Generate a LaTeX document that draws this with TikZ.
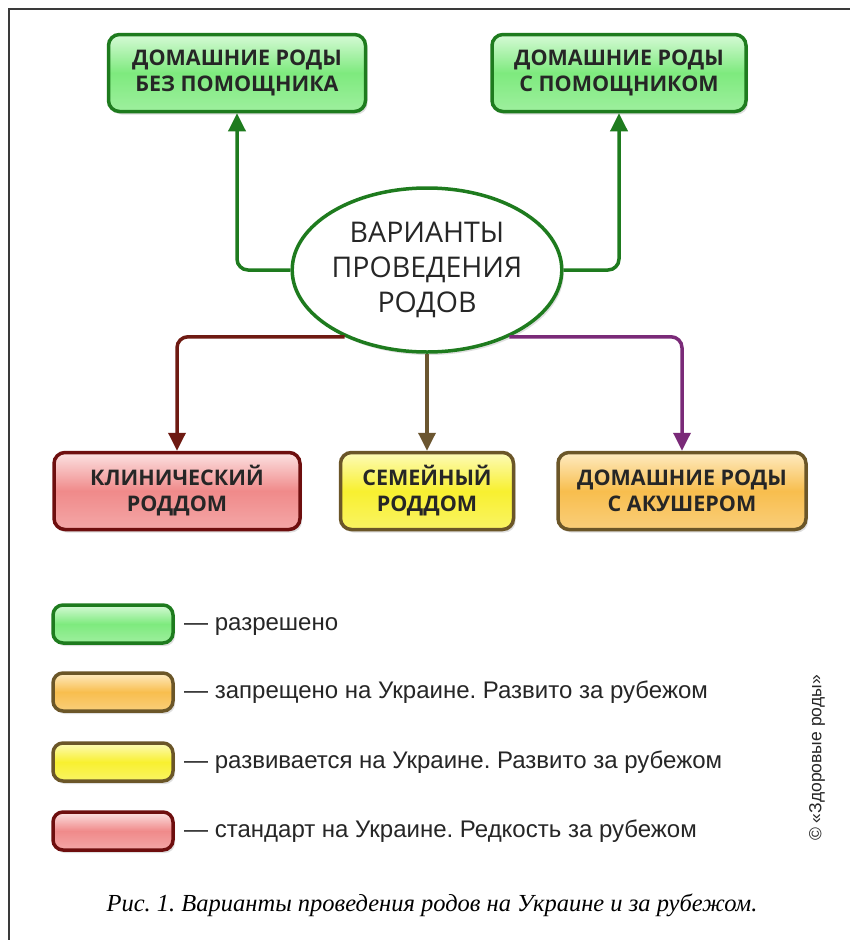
\documentclass[tikz,border=0pt]{standalone}
\usepackage{fontspec}
\setmainfont{Liberation Serif}
\newfontfamily\boxfont{Open Sans}
\newfontfamily\legfont{Liberation Sans}
\usetikzlibrary{shapes.geometric,arrows.meta,shadows}
\frenchspacing
\definecolor{gborder}{HTML}{1E7B1E}
\definecolor{gfill}{HTML}{7EEA7E}
\definecolor{gtop}{HTML}{D6FAD6}
\definecolor{rborder}{HTML}{6E0E0E}
\definecolor{rfill}{HTML}{F08A8A}
\definecolor{rtop}{HTML}{FCE2E2}
\definecolor{yborder}{HTML}{6B5628}
\definecolor{yfill}{HTML}{F8F030}
\definecolor{ytop}{HTML}{FDFBB8}
\definecolor{ofill}{HTML}{F8BE4E}
\definecolor{otop}{HTML}{FEEBC2}
\definecolor{redarrow}{HTML}{6E1A12}
\definecolor{brownarrow}{HTML}{6B5630}
\definecolor{purplearrow}{HTML}{7A2A78}
\definecolor{framecol}{HTML}{3A3A3A}
\tikzset{
  glossy/.style n args={3}{draw=#1, top color=#2, bottom color=#3!75!white, middle color=#3},
  shadowed/.style={drop shadow={opacity=0.25, shadow xshift=2pt, shadow yshift=-3pt}},
  mainbox/.style={rounded corners=11pt, line width=3.5pt, minimum height=77pt, align=center,
    font=\boxfont\bfseries\fontsize{21.5}{26}\selectfont, text=black!85, shadowed},
  legbox/.style={rounded corners=10pt, line width=3.5pt, minimum width=120pt, minimum height=38pt, shadowed},
  legtext/.style={anchor=west, inner sep=0pt, font=\legfont\fontsize{24}{28}\selectfont, text=black!85},
  conn/.style={line width=3.5pt, rounded corners=11pt, -{Triangle[width=17pt,length=18pt]}}
}
\begin{document}
\begin{tikzpicture}[x=1pt,y=-1pt]
\useasboundingbox (0,0) rectangle (850,940);
\fill[white] (0,0) rectangle (850,940);
% frame
\draw[line width=2pt, framecol] (9,940) -- (9,9) -- (850,9);

% top boxes
\node[mainbox, glossy={gborder}{gtop}{gfill}, minimum width=257pt] (b1) at (237,73) {ДОМАШНИЕ РОДЫ\\БЕЗ ПОМОЩНИКА};
\node[mainbox, glossy={gborder}{gtop}{gfill}, minimum width=254pt] (b2) at (619,73) {ДОМАШНИЕ РОДЫ\\С ПОМОЩНИКОМ};

% ellipse
\node[ellipse, draw=gborder, line width=3.5pt, fill=white, minimum width=266pt, minimum height=164pt,
  inner sep=0pt, align=center, shadowed, font=\boxfont\fontsize{28.5}{35}\selectfont, text=black!85] (ell) at (427,270)
  {ВАРИАНТЫ\\ПРОВЕДЕНИЯ\\РОДОВ};

% bottom boxes
\node[mainbox, glossy={rborder}{rtop}{rfill}, minimum width=246pt] (c1) at (177,491) {КЛИНИЧЕСКИЙ\\РОДДОМ};
\node[mainbox, glossy={yborder}{ytop}{yfill}, minimum width=173pt] (c2) at (427,491) {СЕМЕЙНЫЙ\\РОДДОМ};
\node[mainbox, glossy={yborder}{otop}{ofill}, minimum width=248pt] (c3) at (682,491) {ДОМАШНИЕ РОДЫ\\С АКУШЕРОМ};

% connectors
\draw[conn, gborder] (ell.west) -| (b1.south);
\draw[conn, gborder] (ell.east) -| (b2.south);
\draw[conn, redarrow] (ell.219) -| (c1.north);
\draw[conn, brownarrow] (ell.south) -- (c2.north);
\draw[conn, purplearrow] (ell.321) -| (c3.north);

% legend
\node[legbox, glossy={gborder}{gtop}{gfill}] (l1) at (113,624) {};
\node[legbox, glossy={yborder}{otop}{ofill}] (l2) at (113,692) {};
\node[legbox, glossy={yborder}{ytop}{yfill}] (l3) at (113,762) {};
\node[legbox, glossy={rborder}{rtop}{rfill}] (l4) at (113,831) {};
\node[legtext] (t1) at (184,627) {— разрешено};
\node[legtext] (t2) at (184,692) {— запрещено на Украине. Развито за рубежом};
\node[legtext] (t3) at (184,762) {— развивается на Украине. Развито за рубежом};
\node[legtext] (t4) at (184,831) {— стандарт на Украине. Редкость за рубежом};

% copyright
\node[rotate=90, inner sep=0pt, font=\legfont\fontsize{17.5}{20}\selectfont, text=black!85] (copy) at (817,758) {© «Здоровые роды»};

% caption
\node[inner sep=0pt, font=\itshape\fontsize{24.5}{28}\selectfont] (cap) at (432,905) {Рис. 1. Варианты проведения родов на Украине и за рубежом.};
\end{tikzpicture}
\end{document}
